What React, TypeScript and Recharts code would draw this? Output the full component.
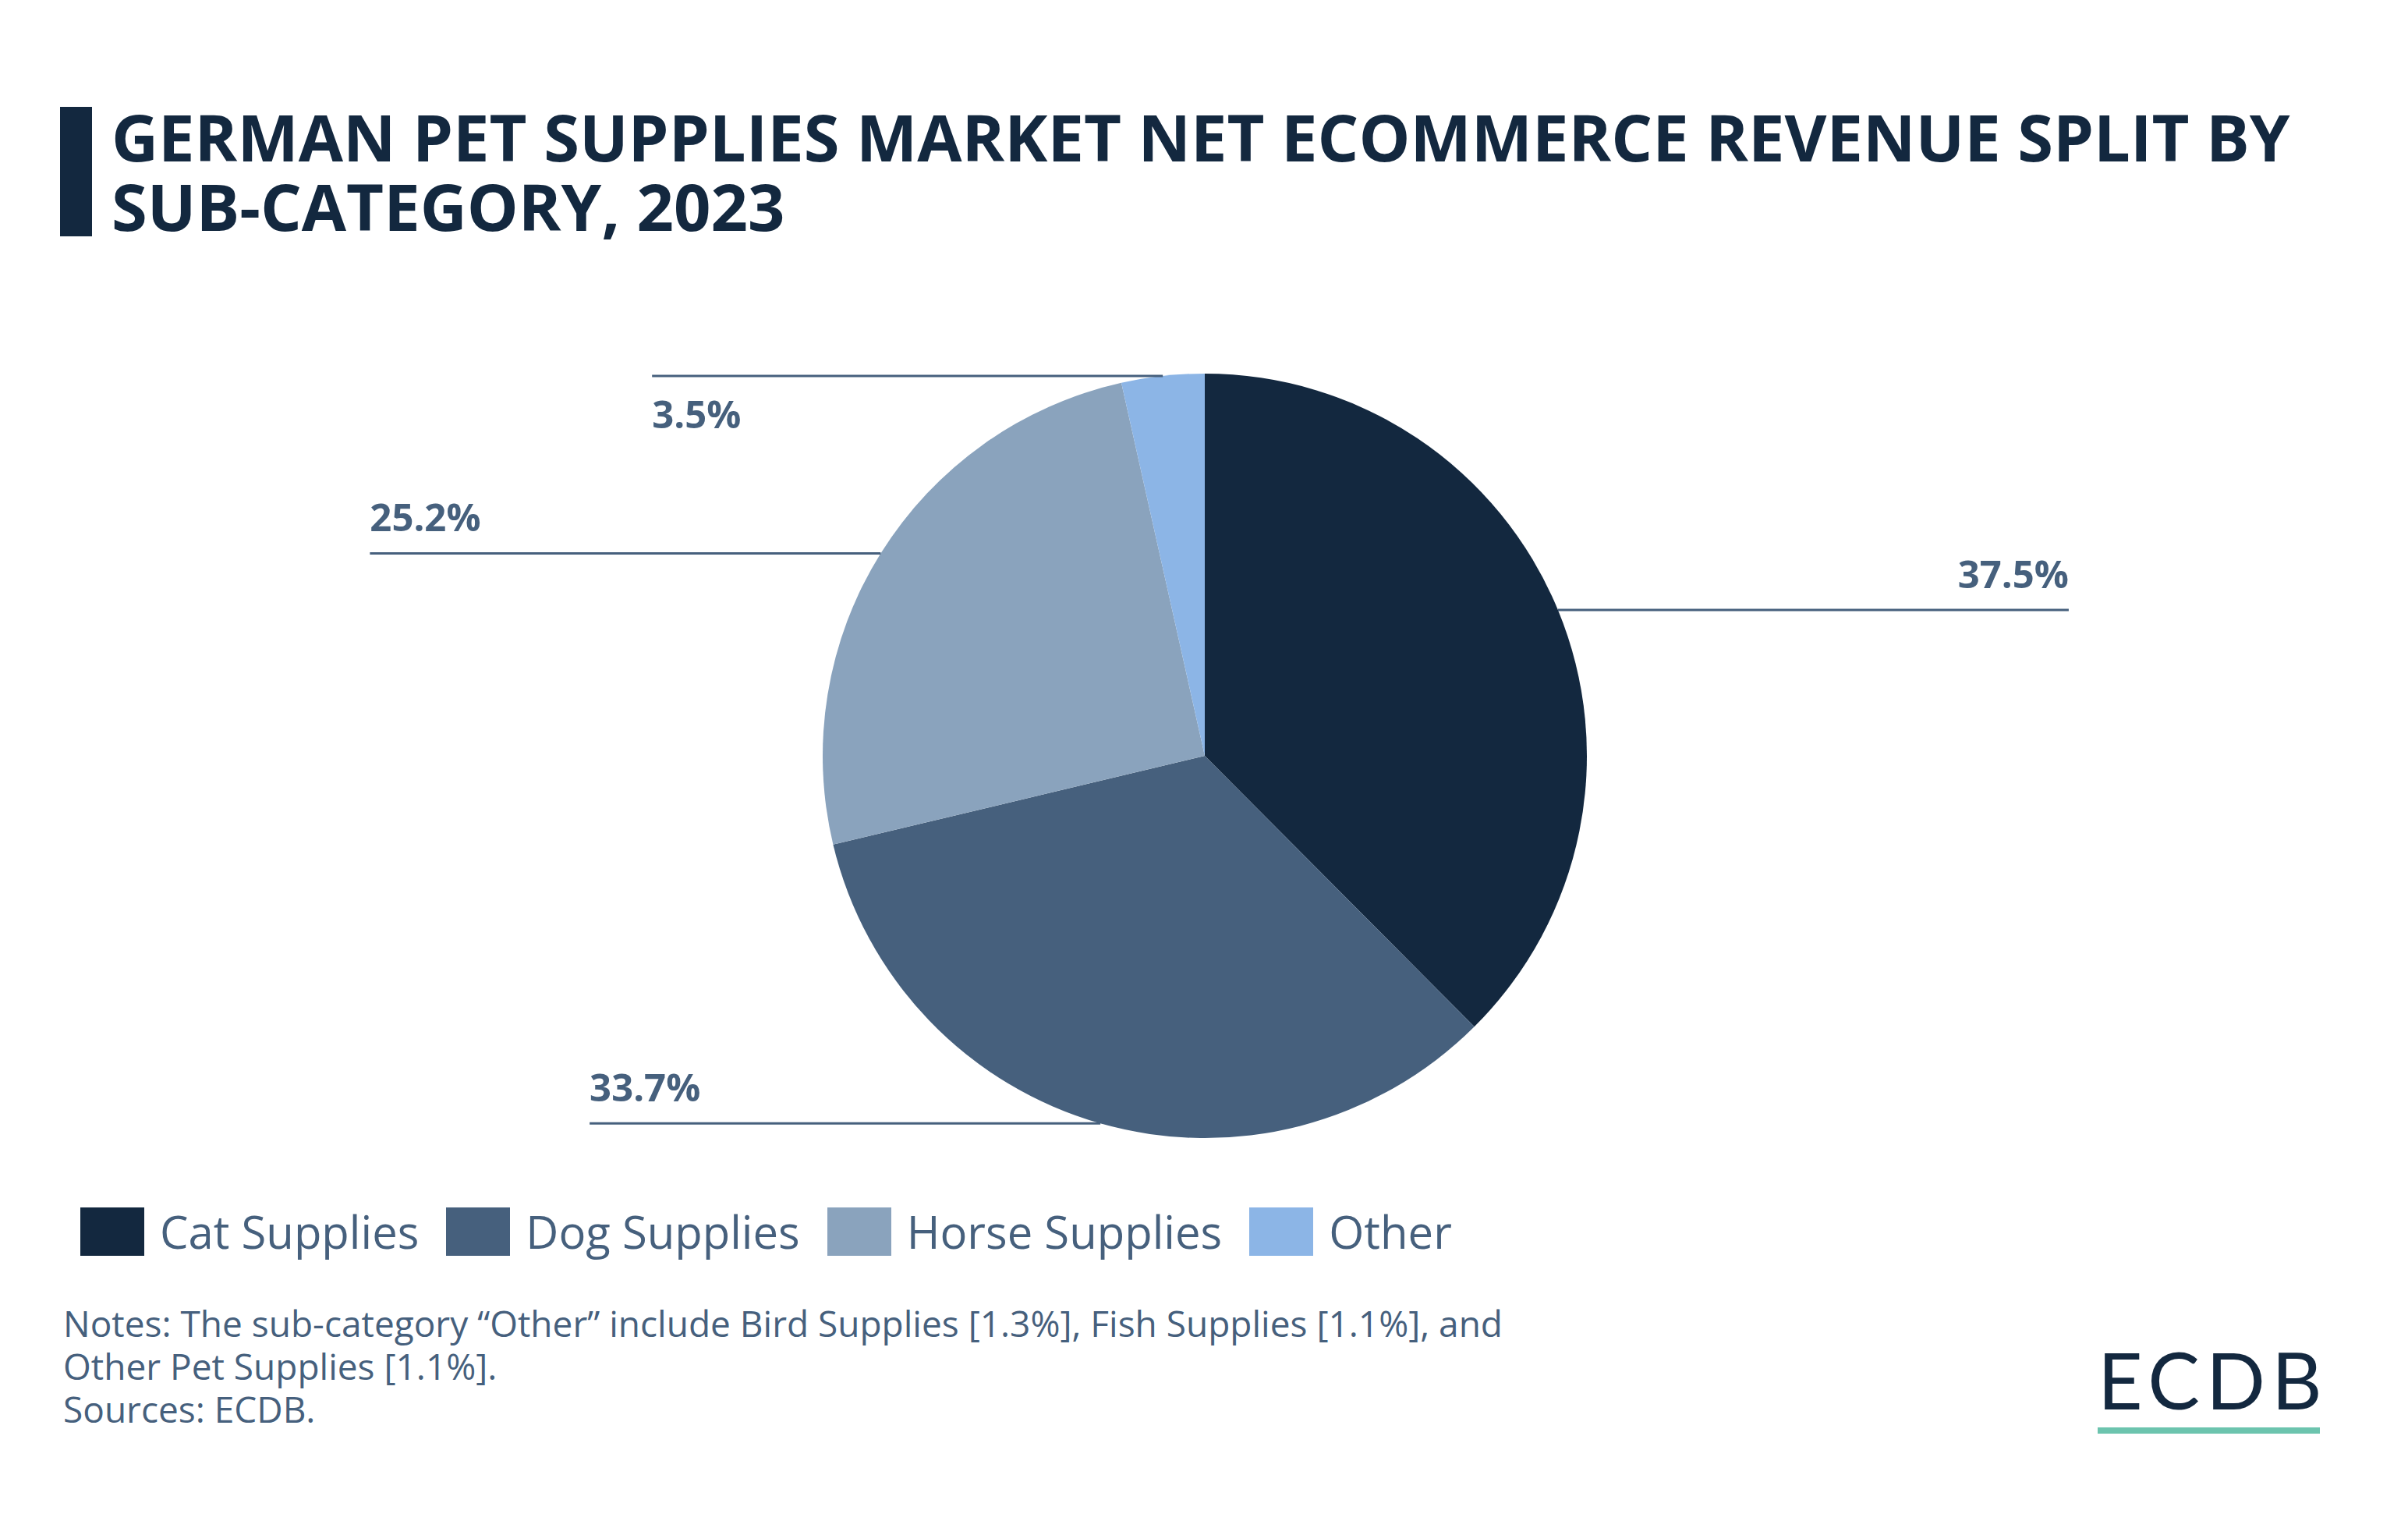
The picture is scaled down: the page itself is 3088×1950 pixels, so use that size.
import React from 'react';
import { PieChart, Pie, Cell, Legend } from 'recharts';

const categories = ['Cat Supplies', 'Dog Supplies', 'Horse Supplies', 'Other'];
const shares = [37.5, 33.7, 25.2, 3.5];
const sliceColors = ['#13283f', '#46607d', '#8aa3bd', '#8cb5e6'];

const titleLines = [
  'GERMAN PET SUPPLIES MARKET NET ECOMMERCE REVENUE SPLIT BY',
  'SUB-CATEGORY, 2023',
];
const noteLines = [
  'Notes: The sub-category \u201cOther\u201d include Bird Supplies [1.3%], Fish Supplies [1.1%], and',
  'Other Pet Supplies [1.1%].',
  'Sources: ECDB.',
];

const data = categories.map((name, i) => ({ name, value: shares[i] }));

const NAVY = '#13283f';
const SLATE = '#46607d';
const FONT = '"Open Sans", sans-serif';
const RADIAN = Math.PI / 180;
const LEADER = 655;

// horizontal leader line from the slice's mid point, value sits at the outer end
const renderLabel = (props: any) => {
  const { cx, cy, midAngle, outerRadius, value } = props;
  const x0 = cx + outerRadius * Math.cos(-midAngle * RADIAN);
  const y0 = cy + outerRadius * Math.sin(-midAngle * RADIAN);
  const right = x0 >= cx;
  const x1 = right ? x0 + LEADER : x0 - LEADER;
  const nearTop = y0 < cy - outerRadius * 0.95;
  const ty = nearTop ? y0 + 67 : y0 - 28;
  return (
    <g>
      <line x1={x0} y1={y0} x2={x1} y2={y0} stroke={SLATE} strokeWidth={3} />
      <text
        x={x1}
        y={ty}
        textAnchor={right ? 'end' : 'start'}
        fill={SLATE}
        fontFamily={FONT}
        fontSize={49}
        fontWeight={700}
      >
        {Number(value).toFixed(1)}%
      </text>
    </g>
  );
};

const renderLegend = (props: any) => {
  const { payload } = props;
  return (
    <div style={{ display: 'flex', alignItems: 'center' }}>
      {(payload || []).map((entry: any) => (
        <div key={entry.value} style={{ display: 'flex', alignItems: 'center', marginRight: 35 }}>
          <div style={{ width: 82, height: 62, background: entry.color }} />
          <span
            style={{
              marginLeft: 20,
              fontSize: 58,
              lineHeight: '58px',
              color: SLATE,
              fontFamily: FONT,
            }}
          >
            {entry.value}
          </span>
        </div>
      ))}
    </div>
  );
};

export default function App() {
  return (
    <div
      style={{
        position: 'absolute',
        left: 0,
        top: 0,
        width: 3088,
        height: 1950,
        background: '#ffffff',
        overflow: 'hidden',
      }}
    >
      <div style={{ position: 'absolute', left: 77, top: 137, width: 41, height: 166, background: NAVY }} />
      <div
        style={{
          position: 'absolute',
          left: 143,
          top: 130,
          fontFamily: FONT,
          fontWeight: 700,
          fontSize: 83,
          lineHeight: '89px',
          color: NAVY,
          whiteSpace: 'nowrap',
        }}
      >
        {titleLines.map((l) => (
          <div key={l}>{l}</div>
        ))}
      </div>

      <div style={{ position: 'absolute', left: 0, top: 0 }}>
        <PieChart width={3088} height={1950} margin={{ top: 0, right: 0, bottom: 0, left: 0 }}>
          <Pie
            data={data}
            dataKey="value"
            nameKey="name"
            cx={1545}
            cy={969}
            outerRadius={490}
            startAngle={90}
            endAngle={-270}
            stroke="none"
            label={renderLabel}
            labelLine={false}
            isAnimationActive={false}
          >
            {data.map((d, i) => (
              <Cell key={d.name} fill={sliceColors[i]} />
            ))}
          </Pie>
          <Legend
            verticalAlign="bottom"
            content={renderLegend}
            wrapperStyle={{ position: 'absolute', left: 103, top: 1548, bottom: 'auto', width: 'auto' }}
          />
        </PieChart>
      </div>

      <div
        style={{
          position: 'absolute',
          left: 81,
          top: 1669,
          fontFamily: FONT,
          fontSize: 46,
          lineHeight: '55px',
          color: SLATE,
          whiteSpace: 'nowrap',
        }}
      >
        {noteLines.map((l) => (
          <div key={l}>{l}</div>
        ))}
      </div>

      <div
        style={{
          position: 'absolute',
          left: 2690,
          top: 1718,
          fontFamily: 'Lato, sans-serif',
          fontSize: 100,
          lineHeight: '100px',
          letterSpacing: 8,
          color: NAVY,
        }}
      >
        ECDB
      </div>
      <div style={{ position: 'absolute', left: 2690, top: 1830, width: 285, height: 8, background: '#6cc4ae' }} />
    </div>
  );
}
